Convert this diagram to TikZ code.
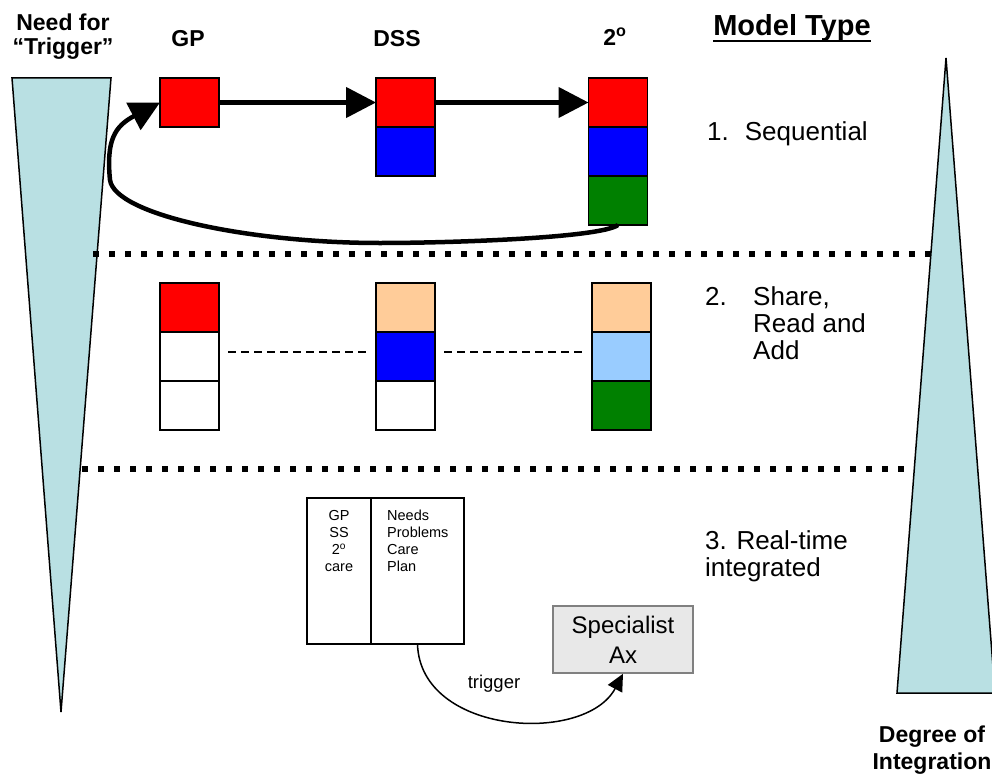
\documentclass[tikz,border=0pt]{standalone}
\usepackage{fontspec}
\setmainfont{Liberation Sans}
\usetikzlibrary{positioning,arrows.meta}

\definecolor{wedgeblue}{RGB}{185,224,227}
\definecolor{peach}{RGB}{255,204,153}
\definecolor{skyblue}{RGB}{153,204,255}
\definecolor{darkgreen}{RGB}{0,128,0}
\definecolor{boxgray}{RGB}{232,232,232}

\tikzset{
    cell/.style={draw, line width=1.5pt, minimum width=59pt, minimum height=49pt, inner sep=0pt, outer sep=0pt},
    head/.style={font=\fontsize{23}{24}\selectfont\bfseries, inner sep=0pt, align=center},
    model/.style={font=\fontsize{26}{27}\selectfont, inner sep=0pt, align=left},
    small/.style={font=\fontsize{14.5}{17}\selectfont, inner sep=0pt},
    flow/.style={line width=4.5pt, -{Triangle[length=30pt,width=30pt]}},
    sepline/.style={line width=5.5pt, dash pattern=on 5.5pt off 10.5pt},
    share/.style={line width=1.2pt, dash pattern=on 8pt off 5pt, shorten <=9pt, shorten >=8pt},
    wedge/.style={draw, line width=1.5pt, fill=wedgeblue},
}

\begin{document}
\begin{tikzpicture}[x=1pt,y=-1pt]
        \useasboundingbox (0,0) rectangle (992,773);

        % Wedges and separators
        \draw [wedge] (12,78) -- (111,78) -- (61,712) -- cycle;
        \draw [sepline] (93,254) -- (931,254);
        \draw [sepline] (82,469) -- (914,469);
        \draw [wedge] (946,58) -- (897,693) -- (995,693) -- cycle;

        % Headings
        \node [head, anchor=north] (needtrigger) at (63,14) {Need for\\“Trigger”};
        \node [head, anchor=base] (gphead) at (188,47) {GP};
        \node [head, anchor=base] (dsshead) at (397,47) {DSS};
        \node [head, anchor=base] (sechead) at (615,46) {2\textsuperscript{o}};
        \node [font=\fontsize{29}{30}\selectfont\bfseries, inner sep=0pt, anchor=base] (modeltype) at (792,36) {Model Type};
        \draw [line width=2.5pt] ([yshift=-5pt]modeltype.base west) -- ([yshift=-5pt]modeltype.base east);

        % Model 1
        \node [cell, fill=red] (gp1) at (189.5,102.5) {};
        \node [cell, fill=red] (dss1a) at (405.5,102.5) {};
        \node [cell, fill=blue, below=0pt of dss1a] (dss1b) {};
        \node [cell, fill=red] (sec1a) at (618,102.5) {};
        \node [cell, fill=blue, below=0pt of sec1a] (sec1b) {};
        \node [cell, fill=darkgreen, below=0pt of sec1b] (sec1c) {};

        \draw [flow] (gp1.east) -- (dss1a.west);
        \draw [flow] (dss1a.east) -- (sec1a.west);
        \draw [flow] (sec1c.south) .. controls (600,238) and (450,243) .. (380,243)
            .. controls (250,243) and (115,215) .. (110,180)
            .. controls (106,140) and (115,126) .. (gp1.west);

        \node [model, anchor=base west] (seqlabel) at (707,140) {1.\hspace{16pt}Sequential};

        % Model 2
        \node [cell, fill=red] (gp2a) at (189.5,307.5) {};
        \node [cell, fill=white, below=0pt of gp2a] (gp2b) {};
        \node [cell, fill=white, below=0pt of gp2b] (gp2c) {};
        \node [cell, fill=peach] (dss2a) at (405.5,307.5) {};
        \node [cell, fill=blue, below=0pt of dss2a] (dss2b) {};
        \node [cell, fill=white, below=0pt of dss2b] (dss2c) {};
        \node [cell, fill=peach] (sec2a) at (621.5,307.5) {};
        \node [cell, fill=skyblue, below=0pt of sec2a] (sec2b) {};
        \node [cell, fill=darkgreen, below=0pt of sec2b] (sec2c) {};

        \draw [share] ([yshift=4.5pt]gp2b.east) -- ([yshift=4.5pt]dss2b.west);
        \draw [share] ([yshift=4.5pt]dss2b.east) -- ([yshift=4.5pt]sec2b.west);

        \node [model, anchor=north west] (sharelabel) at (705,286)
            {\begin{tabular}{@{}p{48pt}@{}l@{}}2. & Share,\\ & Read and\\ & Add\end{tabular}};

        % Model 3
        \node [draw, line width=1.5pt, minimum width=64pt, minimum height=146pt, inner sep=0pt, outer sep=0pt] (rtleft) at (339,571) {};
        \node [draw, line width=1.5pt, minimum width=93pt, minimum height=146pt, inner sep=0pt, outer sep=0pt, right=0pt of rtleft] (rtright) {};
        \node [small, anchor=north, align=center] (rtwho) at (339,510) {GP\\SS\\2\textsuperscript{o}\\care};
        \node [small, anchor=north west, align=left] (rtwhat) at (387,510) {Needs\\Problems\\Care\\Plan};

        \node [draw=gray, fill=boxgray, line width=1.5pt, minimum width=140pt, minimum height=67pt, align=center, font=\fontsize{24}{30}\selectfont] (spec) at (623,639.5) {Specialist\\Ax};
        \draw [line width=1.5pt, -{Triangle[length=17pt,width=16pt]}] (rtright.south) .. controls (420,735) and (585,745) .. (spec.south);
        \node [font=\fontsize{18.5}{20}\selectfont, inner sep=0pt] (triggerlabel) at (494,684) {trigger};

        \node [model, anchor=north west] (rtlabel) at (705,530) {3. Real-time\\integrated};

        \node [head, font=\fontsize{23}{27}\selectfont\bfseries, anchor=north] (degree) at (932,726) {Degree of\\Integration};
    \end{tikzpicture}
\end{document}
